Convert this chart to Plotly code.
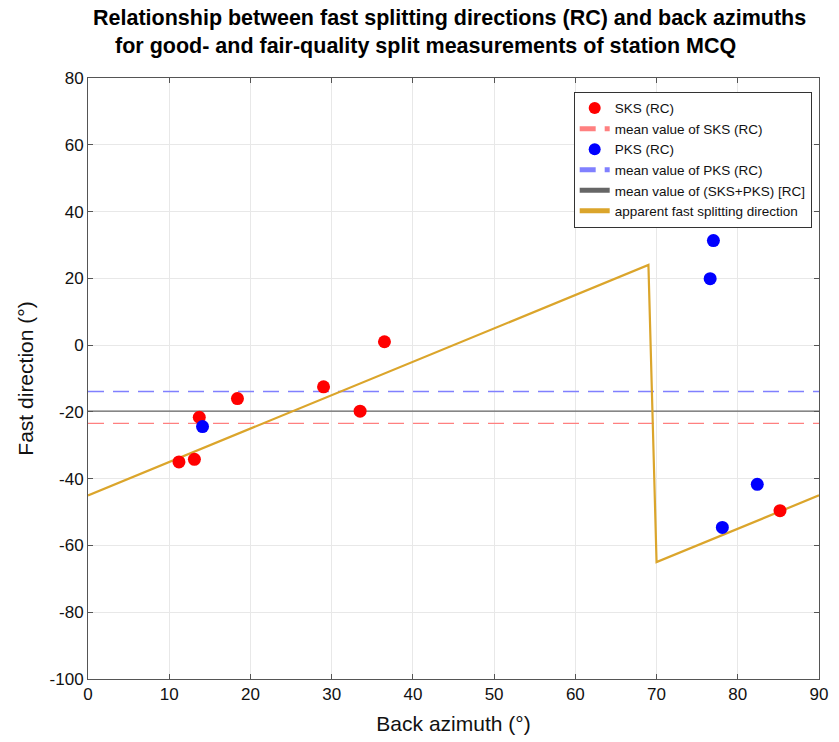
import numpy as np
import plotly.graph_objects as go

# Data
sks_baz = [11.2, 13.1, 13.7, 18.4, 29.0, 33.5, 36.5, 85.2]
sks_phi = [-35.0, -34.2, -21.6, -16.0, -12.5, -19.8, 1.0, -49.6]
pks_baz = [14.1, 76.6, 77.0, 78.1, 82.4]
pks_phi = [-24.4, 19.9, 31.3, -54.6, -41.7]
app_baz = [0, 69, 70, 90]
app_phi = [-45, 24, -65, -45]

x_ticks = list(range(0, 91, 10))
y_ticks = list(range(-100, 81, 20))
y_ticktext = [str(v) for v in y_ticks]

title_lines = ["Relationship between fast splitting directions (RC) and back azimuths",
               "for good- and fair-quality split measurements of station MCQ"]

sks_mean = float(np.mean(sks_phi))
pks_mean = float(np.mean(pks_phi))
all_mean = float(np.mean(sks_phi + pks_phi))

xr = [0, 90]
FONT = "Liberation Sans, Arial, sans-serif"

fig = go.Figure()
fig.add_trace(go.Scatter(x=xr, y=[sks_mean, sks_mean], mode="lines", name="mean value of SKS (RC)",
                         line=dict(color="#ff8080", width=1.3, dash="16px,9px"), legendrank=2))
fig.add_trace(go.Scatter(x=xr, y=[pks_mean, pks_mean], mode="lines", name="mean value of PKS (RC)",
                         line=dict(color="#8080ff", width=1.3, dash="16px,9px"), legendrank=4))
fig.add_trace(go.Scatter(x=xr, y=[all_mean, all_mean], mode="lines", name="mean value of (SKS+PKS) [RC]",
                         line=dict(color="#666666", width=1.3), legendrank=5))
fig.add_trace(go.Scatter(x=app_baz, y=app_phi, mode="lines", name="apparent fast splitting direction",
                         line=dict(color="#DBA52B", width=2.2), legendrank=6))
fig.add_trace(go.Scatter(x=sks_baz, y=sks_phi, mode="markers", name="SKS (RC)",
                         marker=dict(color="#ff0000", size=13, line=dict(width=0)), legendrank=1))
fig.add_trace(go.Scatter(x=pks_baz, y=pks_phi, mode="markers", name="PKS (RC)",
                         marker=dict(color="#0000ff", size=13, line=dict(width=0)), legendrank=3))

axis_common = dict(showgrid=True, gridcolor="#e8e8e8", gridwidth=1, zeroline=False,
                   showline=True, linecolor="#555555", linewidth=1, mirror="ticks",
                   ticks="inside", ticklen=5, tickcolor="#555555",
                   tickfont=dict(family=FONT, size=17, color="#111"))

fig.update_layout(
    width=839, height=742,
    paper_bgcolor="white", plot_bgcolor="white",
    margin=dict(l=88, r=11, t=78, b=61),
    xaxis=dict(range=[0, 90], tickvals=x_ticks,
               title=dict(text="Back azimuth (°)", font=dict(family=FONT, size=21, color="#111"), standoff=12),
               **axis_common),
    yaxis=dict(range=[-100, 80], tickvals=y_ticks, ticktext=y_ticktext,
               title=dict(text="Fast direction (°)", font=dict(family=FONT, size=21, color="#111"), standoff=10),
               **axis_common),
    legend=dict(x=0.99, y=0.977, xanchor="right", yanchor="top",
                traceorder="normal", bgcolor="white", bordercolor="#333", borderwidth=1,
                font=dict(family=FONT, size=13.5, color="#111"),
                itemsizing="constant", tracegroupgap=0),
    showlegend=True,
)

for txt, xp, yp in zip(title_lines, [0.4946, 0.462], [1.0995, 1.053]):
    fig.add_annotation(text="<b>" + txt + "</b>", xref="paper", yref="paper", x=xp, y=yp,
                       xanchor="center", yanchor="middle", showarrow=False,
                       font=dict(family=FONT, size=21.5, color="#000"))

fig.write_html("out.html")
